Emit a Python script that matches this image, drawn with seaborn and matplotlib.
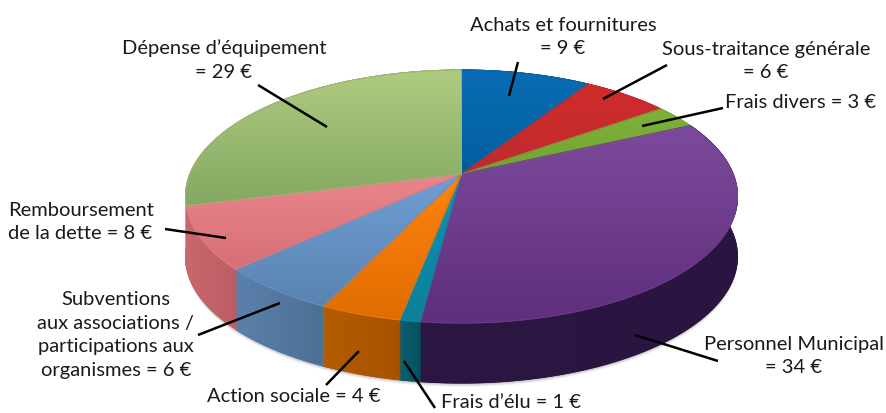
import numpy as np
import matplotlib
matplotlib.use("Agg")
import matplotlib.pyplot as plt
from matplotlib.path import Path
from matplotlib.patches import PathPatch
import seaborn as sns

# ---- data ----
categories = ["Achats et fournitures", "Sous-traitance générale", "Frais divers",
              "Personnel Municipal", "Frais d'élu", "Action sociale",
              "Subventions", "Remboursement de la dette", "Dépense d'équipement"]
values = [9, 6, 3, 34, 1, 4, 6, 8, 29]
top_light = ["#0a6cb4", "#d02c2c", "#7db23a", "#7c4a9c", "#0e94b4", "#ff8410", "#6f9ed6", "#e8868c", "#aecb80"]
top_dark = ["#005f9e", "#bf2a2e", "#74a332", "#5e2f7c", "#0b8099", "#e06c00", "#5a83b0", "#d87076", "#84a862"]
side_light = ["#003a66", "#7d1a1c", "#4a6e20", "#2b1742", "#0a5f70", "#b35c00", "#5a80ac", "#c9696e", "#c9696e"]
side_dark = ["#003a66", "#7d1a1c", "#4a6e20", "#2a1540", "#07505f", "#a85200", "#4d6f93", "#bc5c64", "#c9696e"]

labels = [
    ("Achats et fournitures\n= 9 €", 563, 37, "center"),
    ("Sous-traitance générale\n= 6 €", 766, 61, "center"),
    ("Frais divers = 3 €", 801, 102, "center"),
    ("Dépense d’équipement\n= 29 €", 224, 60, "center"),
    ("Remboursement\nde la dette = 8 €", 8, 222, "left"),
    ("Subventions\naux associations /\nparticipations aux\norganismes = 6 €", 116, 335, "center"),
    ("Action sociale = 4 €", 294, 397, "center"),
    ("Frais d’élu = 1 €", 511, 403, "center"),
    ("Personnel Municipal\n= 34 €", 794, 356, "center"),
]
leaders = [
    ((518, 62), (509, 96)), ((667, 65), (603, 99)), ((723, 108), (642, 126)),
    ((258, 85), (327, 127)), ((165, 229), (226, 238)), ((198, 335), (280, 303)),
    ((326, 385), (359, 351)), ((435, 408), (404, 361)), ((635, 335), (718, 361)),
]

sns.set_theme(style="white")
plt.rcParams["font.family"] = ["Lato", "DejaVu Sans"]

W, H = 886, 413
fig = plt.figure(figsize=(W / 100, H / 100), dpi=100)
ax = fig.add_axes([0, 0, 1, 1])

CX, CY, A, B, K, DEPTH = 461.5, 174.0, 271.6, 122.5, 0.178, 60.0


def project(theta):
    """Clockwise angle from 12 o'clock on a tilted disc, to canvas units."""
    x, y = np.sin(theta), np.cos(theta)
    w = 1 + K * y
    return CX + A * x / w, CY - B * y / w


def fill(verts, c0, c1, horizontal=False, zorder=2):
    verts = np.asarray(verts)
    path = Path(np.vstack([verts, verts[0]]), closed=True)
    mid = sns.blend_palette([c0, c1], 3)[1]
    ax.add_patch(PathPatch(path, facecolor=mid, edgecolor=mid, lw=0.7, zorder=zorder))
    ax.add_patch(PathPatch(path, facecolor="none", edgecolor=mid, lw=0.7, zorder=zorder + 0.2))
    cmap = sns.blend_palette([c0, c1], 64, as_cmap=True)
    g = np.linspace(0, 1, 64)
    g = g[None, :] if horizontal else g[:, None]
    x0, y0 = verts.min(axis=0)
    x1, y1 = verts.max(axis=0)
    im = ax.imshow(g, cmap=cmap, extent=(x0, x1, y1, y0), aspect="auto",
                   origin="upper", zorder=zorder + 0.1, interpolation="bilinear")
    im.set_clip_path(PathPatch(path, transform=ax.transData))


ends = np.cumsum(values) / np.sum(values) * 2 * np.pi
starts = np.r_[0, ends[:-1]]

# soft shadow under the disc
ring = project(np.linspace(0, 2 * np.pi, 361))
for off, alpha in [(4, 0.05), (3, 0.07), (2, 0.10), (1, 0.14)]:
    ax.fill(ring[0], ring[1] + DEPTH + off, color="#30283a", alpha=alpha, lw=0, zorder=1)

# side wall
for s, e, c0, c1 in zip(starts, ends, side_light, side_dark):
    th = np.linspace(s, e, 80)
    px, py = project(th)
    verts = np.r_[np.c_[px, py], np.c_[px, py + DEPTH][::-1]]
    fill(verts, c0, c1, horizontal=True, zorder=2)

# top face
for s, e, c0, c1 in zip(starts, ends, top_light, top_dark):
    th = np.linspace(s, e, 120)
    px, py = project(th)
    verts = np.r_[[[CX, CY]], np.c_[px, py]]
    fill(verts, c0, c1, zorder=3)

for (p, q) in leaders:
    ax.plot([p[0], q[0]], [p[1], q[1]], color="black", lw=1.8, zorder=6,
            solid_capstyle="butt")

for txt, x, y, ha in labels:
    ax.text(x, y, txt, ha=ha, va="center", fontsize=14.5, color="#1a1a1a",
            linespacing=1.47, zorder=7, multialignment=ha)

ax.set_xlim(0, W)
ax.set_ylim(H, 0)
ax.axis("off")
fig.savefig("out.png", dpi=100, facecolor="white")
